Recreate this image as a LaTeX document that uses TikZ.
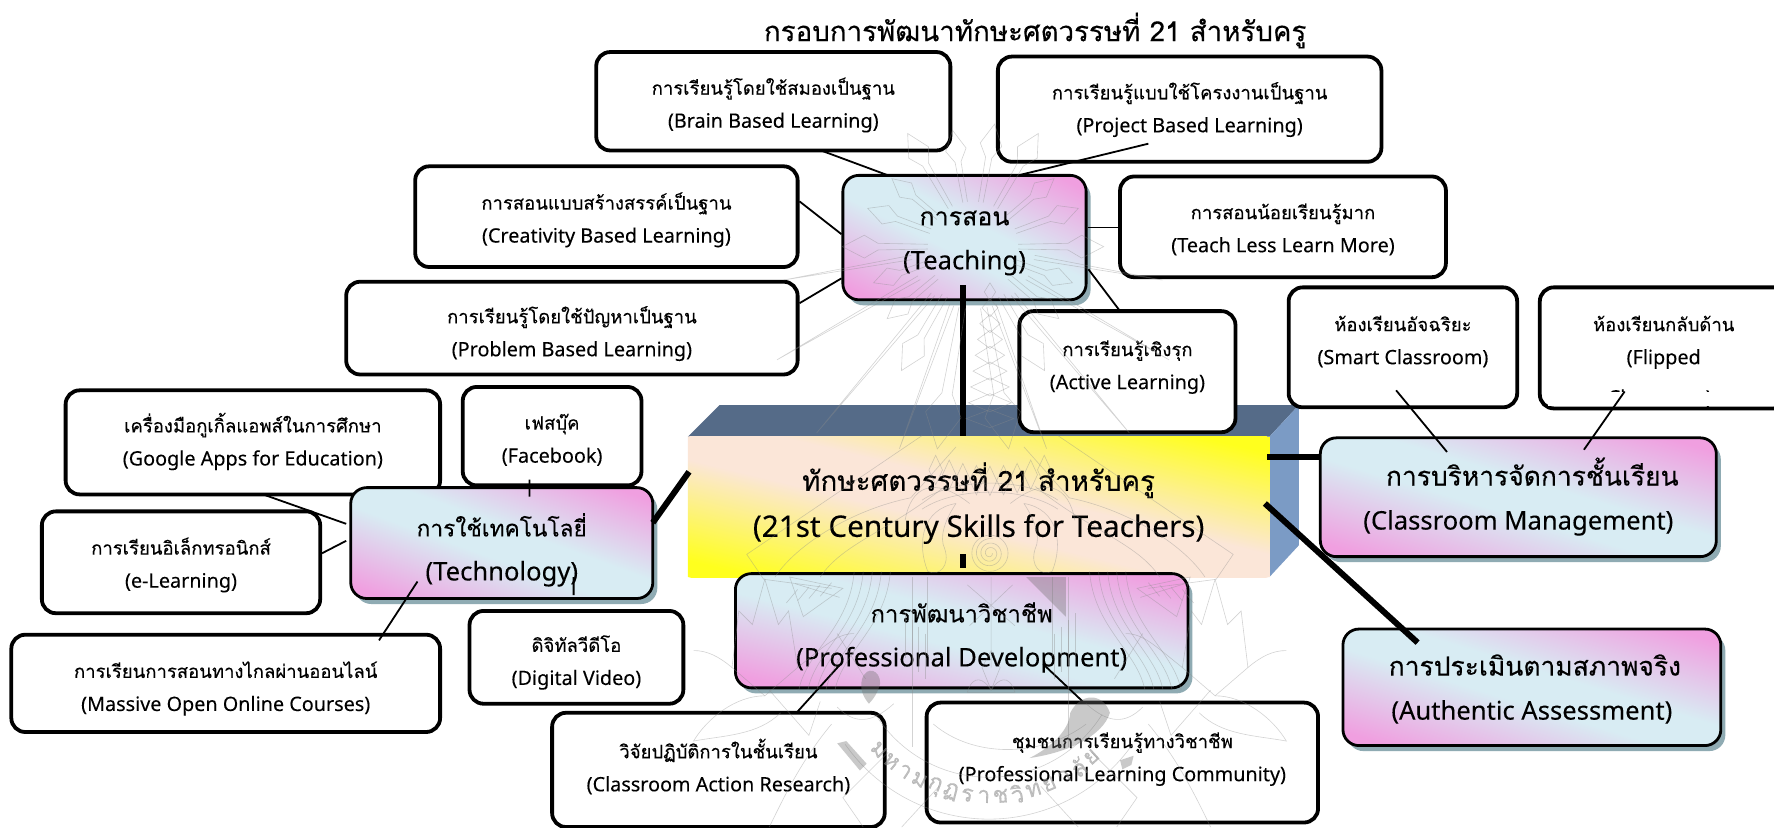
\documentclass[tikz,border=0pt]{standalone}
\usepackage{fontspec}
\usetikzlibrary{shadows,calc}
\newfontfamily\thf[Script=Thai,FakeBold=0.25]{Loma}
\newfontfamily\lat[FakeBold=0.1]{Noto Sans}
\definecolor{pinkc}{HTML}{F09FE0}
\definecolor{bluec}{HTML}{D8ECF3}
\definecolor{shadc}{HTML}{8FABB3}
\definecolor{yelc}{HTML}{FFFF1E}
\definecolor{peachc}{HTML}{FBE6D8}
\definecolor{topc}{HTML}{556B88}
\definecolor{sidec}{HTML}{7B9BC5}
\pgfdeclarehorizontalshading{pinkgrad}{100bp}{color(0bp)=(pinkc); color(6bp)=(pinkc); color(42bp)=(bluec); color(58bp)=(bluec); color(94bp)=(pinkc); color(100bp)=(pinkc)}
\pgfdeclarehorizontalshading{yelgrad}{100bp}{color(0bp)=(yelc); color(6bp)=(yelc); color(42bp)=(peachc); color(58bp)=(peachc); color(94bp)=(yelc); color(100bp)=(yelc)}
% corner to corner gradient, stretched to the bounding box of the path
\newcommand\cornergrad[1]{%
 \pgfpointanchor{path picture bounding box}{north east}\pgfgetlastxy\nex\ney
 \pgfpointanchor{path picture bounding box}{south west}\pgfgetlastxy\swx\swy
 \pgfmathsetmacro\gsx{(\nex-\swx)/70.97}%
 \pgfmathsetmacro\gsy{(\ney-\swy)/70.97}%
 \pgftransformshift{\pgfpointanchor{path picture bounding box}{center}}%
 \pgftransformcm{\gsx}{0}{0}{\gsy}{\pgfpointorigin}%
 \pgftransformrotate{45}%
 \pgflowlevelsynccm
 \pgftext{\pgfuseshading{#1}}}
\tikzset{
 x=1.1314pt,y=-1.1314pt,
 plain/.style={draw=black,line width=3.8pt,rounded corners=14pt,fill=white,inner sep=0pt},
 grad/.style={draw=black,line width=2.8pt,rounded corners=16pt,inner sep=0pt,fill=bluec,
   path picture={\cornergrad{pinkgrad}},
   drop shadow={shadow xshift=4.5pt,shadow yshift=-5.5pt,opacity=1,fill=shadc}},
 small/.style={font=\def\latf{\lat\fontsize{19.8}{33}\selectfont}\thf\fontsize{18.5}{33}\selectfont},
 big/.style={font=\def\latf{\lat\fontsize{25.6}{44}\selectfont}\thf\fontsize{26.4}{44}\selectfont},
 thin line/.style={draw=black,line width=1.8pt},
 thick line/.style={draw=black,line width=6pt},
 wm/.style={draw=black!45,line width=0.6pt,opacity=0.38},
 wmdark/.style={fill=black!55,opacity=0.38},
}
% \mybox[style]{name}{x1}{y1}{x2}{y2}{text mid y}{line 1}{line 2}
\newcommand\mybox[9][plain,small]{%
 \pgfmathsetmacro\bw{(#5-#3)*1.1314}%
 \pgfmathsetmacro\bh{(#6-#4)*1.1314}%
 \pgfmathsetmacro\bd{((#4+#6)/2-#7)*1.1314-6}%
 \node[#1,minimum width=\bw pt,minimum height=\bh pt] (#2) at ({(#3+#5)/2},{(#4+#6)/2})
  {\raisebox{\bd pt}[0pt][0pt]{\begin{tabular}{@{}c@{}}#8\\{\latf #9}\end{tabular}}};}
% one half of the watermark seal, mirrored about its axis
\newcommand\wmhalf{%
 \draw[wm] (60,385) -- (215,490) -- (200,512) -- (140,520);
 \draw[wm] (30,395) -- (70,440) .. controls (120,450) and (170,480) .. (190,510);
 \draw[wm] (40,430) .. controls (90,470) and (130,480) .. (150,510);
 \foreach \o in {0,8,16,24,32}{
   \draw[wm] (88+\o,505) .. controls (92+\o,555) and (130+\o,575) .. (137+\o,610);}
 \draw[wm] (69,510) -- (69,660);
 \draw[wm] (55,510) -- (55,580);
 \foreach \o in {0,6,12,18}{\draw[wm] (57+\o,560-\o) -- (57+\o,600-\o);}
 \draw[wm] (170,590) -- (178,540) -- (187,552) -- (199,512) -- (210,552) -- (222,540) -- (228,590) -- (199,615) -- cycle;
 \draw[wm] (170,590) .. controls (145,570) and (135,560) .. (120,560);
 \draw[wm] (228,590) .. controls (240,580) and (250,575) .. (262,575);
 \draw[wm] (199,615) .. controls (225,615) and (250,635) .. (262,655) .. controls (235,650) and (205,650) .. (185,630);
 \draw[wm] (130,520) -- (177,510) -- (165,545) -- cycle (133,528) -- (172,516);
 \foreach \o in {0,10,20,30}{\draw[wm] (140+\o,515+\o*0.2) -- (150+\o,527+\o*0.2);}
 \draw[wm] (30,445) .. controls (60,450) and (65,480) .. (55,505) .. controls (45,510) and (35,500) .. (40,485) .. controls (45,475) and (40,460) .. (30,445);
 \draw[wm] (18,445) .. controls (50,420) and (70,430) .. (75,460);
 \draw[wm] (85,622) .. controls (105,640) and (120,640) .. (135,625);
 \draw[wm] (140,640) .. controls (165,670) and (180,700) .. (195,731);
 \draw[wm] (90,665) -- (130,705) -- (112,731);
 \draw[wm] (45,695) -- (78,731);
 \draw[wm] (195,610) -- (160,650) -- (150,620);
 \draw[wm] (110,600) -- (135,560);
}
\begin{document}
\begin{tikzpicture}
\useasboundingbox (0,0) rectangle (1568,731);
\fill[white] (0,0) rectangle (1568,731);
% 3D block
\fill[topc] (608,386)--(636,358)--(1148,358)--(1122,386)--cycle;
\fill[sidec] (1122,386)--(1148,358)--(1148,482)--(1122,510)--cycle;
\pgfmathsetmacro\bw{(1122-608)*1.1314}\pgfmathsetmacro\bh{(510-386)*1.1314}
\node[inner sep=0pt,minimum width=\bw pt,minimum height=\bh pt,fill=peachc,
  path picture={\cornergrad{yelgrad}},
  font=\thf\fontsize{27.8}{46}\selectfont] (core) at (865,448)
  {\raisebox{-4pt}[0pt][0pt]{\begin{tabular}{@{}c@{}}ทักษะศตวรรษที่ 21 สำหรับครู\\{\lat\fontsize{29.7}{46}\selectfont (21st Century Skills for Teachers)}\end{tabular}}};
\node[font=\thf\fontsize{27.7}{30}\selectfont,inner sep=0pt] (title) at (915,27) {กรอบการพัฒนาทักษะศตวรรษที่ 21 สำหรับครู};
% boxes
\mybox{brain}{527}{46}{840}{133}{91}{การเรียนรู้โดยใช้สมองเป็นฐาน}{(Brain Based Learning)}
\mybox{project}{882}{50}{1221}{143}{95}{การเรียนรู้แบบใช้โครงงานเป็นฐาน}{(Project Based Learning)}
\mybox{less}{990}{156}{1278}{245}{201}{การสอนน้อยเรียนรู้มาก}{(Teach Less Learn More)}
\mybox{create}{367}{147}{705}{236}{192.5}{การสอนแบบสร้างสรรค์เป็นฐาน}{(Creativity Based Learning)}
\mybox{problem}{306}{249}{705}{331}{293}{การเรียนรู้โดยใช้ปัญหาเป็นฐาน}{(Problem Based Learning)}
\mybox{active}{901}{275}{1092}{382}{322}{การเรียนรู้เชิงรุก}{(Active Learning)}
\mybox{smart}{1139}{254}{1341}{360}{300}{ห้องเรียนอัจฉริยะ}{(Smart Classroom)}
\mybox{flip}{1361}{254}{1580}{361}{300}{ห้องเรียนกลับด้าน}{(Flipped}
\node[font=\lat\fontsize{19.8}{20}\selectfont,inner sep=0pt,anchor=base] (flipthree) at (1467,357.5) {Classroom)};
\fill[white] (1368,346.5) rectangle (1560,358.8);
\mybox{google}{58}{345}{389}{437}{389.5}{เครื่องมือกูเกิ้ลแอพส์ในการศึกษา}{(Google Apps for Education)}
\mybox{fb}{409}{342}{567}{429}{387}{เฟสบุ๊ค}{(Facebook)}
\mybox{elearn}{37}{452}{283}{542}{497.5}{การเรียนอิเล็กทรอนิกส์}{(e-Learning)}
\mybox{mooc}{10}{561}{389}{647}{606.5}{การเรียนการสอนทางไกลผ่านออนไลน์}{(Massive Open Online Courses)}
\mybox{video}{415}{540}{604}{622}{583.5}{ดิจิทัลวีดีโอ}{(Digital Video)}
\mybox{car}{488}{630}{782}{731}{677.5}{วิจัยปฏิบัติการในชั้นเรียน}{(Classroom Action Research)}
\mybox{plc}{819}{621}{1165}{727}{668.5}{ชุมชนการเรียนรู้ทางวิชาชีพ}{(Professional Learning Community)}
\mybox[grad,big]{teach}{745}{155}{960}{265}{211}{{\fontsize{25}{44}\selectfont การสอน}}{(Teaching)}
\mybox[grad,big]{manage}{1167}{387}{1517}{492}{441}{\hspace*{28pt}การบริหารจัดการชั้นเรียน}{(Classroom Management)}
\mybox[grad,big]{assess}{1187}{556}{1521}{659}{609}{\hspace*{6pt}การประเมินตามสภาพจริง}{(Authentic Assessment)}
\mybox[grad,big]{prof}{650}{507}{1050}{608}{562}{{\fontsize{23.8}{44}\selectfont การพัฒนาวิชาชีพ}}{(Professional Development)}
\mybox[grad,big]{tech}{310}{431}{577}{529}{486}{{\fontsize{22.7}{44}\selectfont การใช้เทคโนโลยี่}}{(Technology)}
% connectors
\draw[thin line] ([shift={(43.5,44)}]brain.center) -- ([shift={(-67.5,-55)}]teach.center);
\draw[thin line] ([shift={(-36.5,30.5)}]project.center) -- ([shift={(47.5,-55)}]teach.center);
\draw[thin line] (create.east|-0,178) -- (teach.west|-0,207);
\draw[thin line] (problem.east|-0,268) -- (teach.west|-0,246);
\draw[thin line] (teach.east|-0,201) -- (less.west|-0,201);
\draw[thin line] ([shift={(109.5,28)}]teach.center) -- ([shift={(-6.5,-53.5)}]active.center);
\draw[thick line] ([shift={(-1.5,42)}]teach.center) -- ([shift={(-14,-63)}]core.center);
\draw[thick line] ([shift={(255,-44)}]core.center) -- (manage.west|-0,404);
\draw[thick line] ([shift={(253,-3)}]core.center) -- ([shift={(-101,-39.5)}]assess.center);
\draw[thick line] ([shift={(-256,-31)}]core.center) -- ([shift={(133.5,-18)}]tech.center);
\draw[thick line] ([shift={(-14,42)}]core.center) -- ([shift={(1,-55.5)}]prof.center);
\draw[thin line] ([shift={(-6,38)}]smart.center) -- ([shift={(-63,-40)}]manage.center);
\draw[thin line] ([shift={(-34.5,38.5)}]flip.center) -- ([shift={(58,-42)}]manage.center);
\draw[thin line] ([shift={(9,46)}]google.center) -- ([shift={(-137.5,-17)}]tech.center);
\draw[thin line] (elearn.east|-0,489) -- ([shift={(-137.5,-2)}]tech.center);
\draw[thin line] ([shift={(135.5,-38)}]mooc.center) -- ([shift={(-74.5,34)}]tech.center);
\draw[thin line] ([shift={(-20,38.5)}]fb.center) -- ([shift={(24.5,-41)}]tech.center);
\draw[thin line] ([shift={(-2.5,-71)}]video.center) -- ([shift={(63.5,46)}]tech.center);
\draw[thin line] ([shift={(-108,30.5)}]prof.center) -- ([shift={(69,-50.5)}]car.center);
\draw[thin line] ([shift={(72,29.5)}]prof.center) -- ([shift={(-34,-53)}]plc.center);
% watermark seal, printed over everything
\begin{scope}[shift={(860,218)}]
 \foreach \a/\r/\q in {0/105/40,20/85/40,40/90/42,60/115/50,80/165/55,100/165/55,120/115/50,140/90/42,160/85/40,180/105/40,
   200/90/40,220/85/40,240/105/40,260/95/40,280/100/40,300/105/40,320/85/40,340/90/40}{
   \draw[wm] (\a-3:\q) -- (\a-2:\r*0.8) -- (\a-6:\r*0.92) -- (\a:\r*1.1) -- (\a+6:\r*0.92) -- (\a+2:\r*0.8) -- (\a+3:\q);}
 \foreach \a/\r in {30/200,50/215,70/190,110/190,130/215,150/200,10/170,170/170}{
   \draw[wm] (\a-2:55) -- (\a:\r) -- (\a+2:55);}
\end{scope}
\foreach \ya/\w in {258/5,272/7,286/9,300/11,314/13,328/15,342/17,356/19,370/21}{
 \draw[wm] (875-\w,\ya) -- (875,\ya-8) -- (875+\w,\ya) -- (875,\ya+8) -- cycle;}
\foreach \d in {-48,-36,...,48}{
 \draw[wm] (875+\d-6,425-\d*\d/240) -- (875+\d,412-\d*\d/240) -- (875+\d+6,425-\d*\d/240) -- (875+\d,438-\d*\d/240) -- cycle;}
\draw[wm] (815,442) .. controls (845,422) and (905,422) .. (935,442);
\draw[wm] (815,450) .. controls (845,430) and (905,430) .. (935,450);
\draw[wm] (875,489) circle [radius=16];
\draw[wm] plot[domain=0:1000,samples=70,smooth] ({875+(2+\x/90)*cos(\x)},{489+(2+\x/90)*sin(\x)});
\draw[wm] (855,517) -- (897,553) (895,517) -- (857,553) (876,510) -- (876,590);
\draw[wm] (868,590) -- (876,575) -- (884,590) -- (876,610) -- cycle;
\draw[wm] (855,612) .. controls (860,595) and (870,600) .. (876,610) .. controls (882,600) and (892,595) .. (897,612) -- cycle;
\begin{scope}[shift={(875,0)}]\wmhalf\end{scope}
\begin{scope}[shift={(875,0)},xscale=-1]\wmhalf\end{scope}
\draw[wm] plot[domain=-58:58,samples=40,smooth] ({874+118*sin(\x)},{569+118*cos(\x)});
\draw[wm] plot[domain=-55:55,samples=40,smooth] ({874+155*sin(\x)},{569+155*cos(\x)});
\draw[wm] (825,640) .. controls (860,670) and (920,670) .. (960,640);
\fill[wmdark] (907,510) -- (942,510) -- (942,545) -- cycle;
\fill[wmdark] (762,600) .. controls (766,588) and (778,592) .. (778,604) .. controls (776,612) and (772,618) .. (768,622) .. controls (762,615) and (760,608) .. (762,600) -- cycle;
\fill[wmdark] (946,630) .. controls (955,612) and (975,612) .. (981,630) .. controls (975,650) and (945,665) .. (910,670) .. controls (930,660) and (945,645) .. (946,630) -- cycle;
\fill[wmdark] (740,657) -- (748,655) -- (766,675) -- (760,681) -- cycle;
\fill[wmdark] (990,672) -- (1002,668) -- (1000,676) -- (992,680) -- cycle;
\foreach \ch [count=\i from 0] in {ม,ห,า,ม,กุ,ฏ,ร,า,ช,วิ,ท,ย,า,ลั,ย}{
 \pgfmathsetmacro\th{-46+\i*6.3}
 \node[font=\thf\fontsize{23}{24}\selectfont,text=black!45,opacity=0.55,inner sep=0pt,rotate=\th] (wmt\i) at ({874+135*sin(\th)},{569+135*cos(\th)}) {\ch};}
\end{tikzpicture}
\end{document}
